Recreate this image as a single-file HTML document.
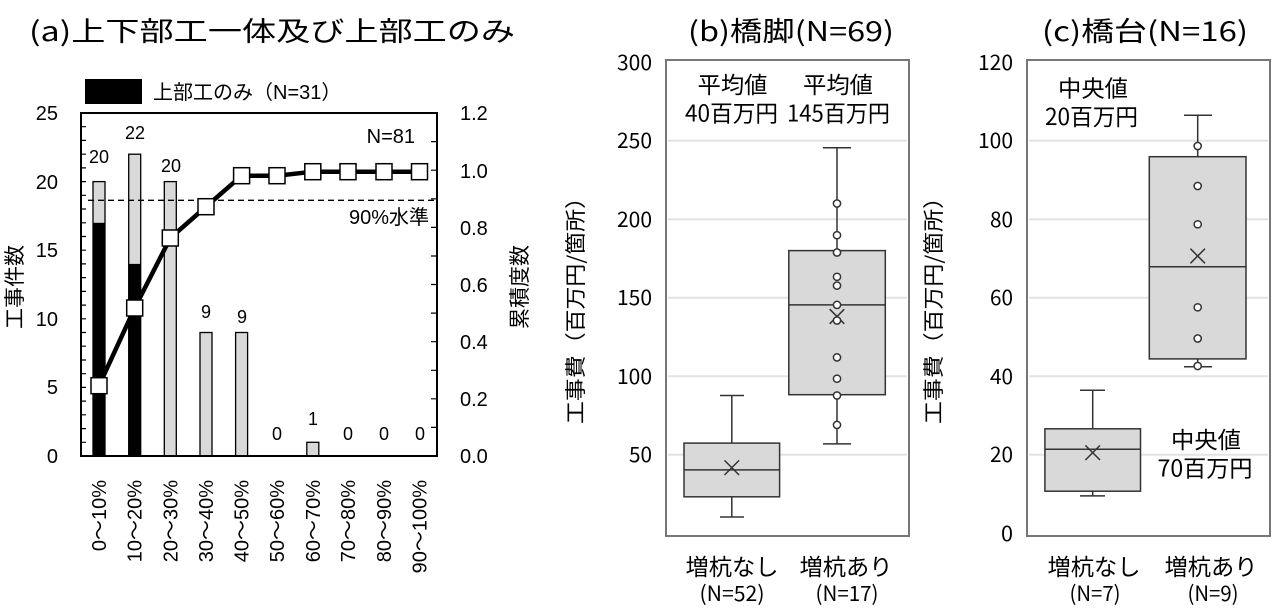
<!DOCTYPE html>
<html><head><meta charset="utf-8"><style>
html,body{margin:0;padding:0;background:#fff;}
svg{display:block;font-family:"Liberation Sans","Noto Sans CJK JP",sans-serif;}
</style></head><body>
<svg width="1285" height="616" viewBox="0 0 1285 616" xmlns="http://www.w3.org/2000/svg">
<!-- Titles -->
<text x="29" y="41" font-size="27" font-family="Noto Sans CJK JP, sans-serif" textLength="486" lengthAdjust="spacingAndGlyphs">(a)上下部工一体及び上部工のみ</text>
<text x="688" y="41" font-size="27" font-family="Noto Sans CJK JP, sans-serif" textLength="206" lengthAdjust="spacingAndGlyphs">(b)橋脚(N=69)</text>
<text x="1042" y="41" font-size="27" font-family="Noto Sans CJK JP, sans-serif" textLength="206" lengthAdjust="spacingAndGlyphs">(c)橋台(N=16)</text>

<!-- Panel a -->
<rect x="85" y="79" width="57" height="25" fill="#000"/>
<text x="153" y="99" font-size="20">上部工のみ（N=31）</text>
<g font-size="20" text-anchor="end">
<text x="58" y="463">0</text><text x="58" y="394">5</text><text x="58" y="326">10</text>
<text x="58" y="257">15</text><text x="58" y="189">20</text><text x="58" y="120">25</text>
</g>
<g font-size="20">
<text x="460" y="463">0.0</text><text x="460" y="406">0.2</text><text x="460" y="349">0.4</text>
<text x="460" y="292">0.6</text><text x="460" y="235">0.8</text><text x="460" y="178">1.0</text><text x="460" y="120">1.2</text>
</g>
<text transform="translate(22,287) rotate(-90)" font-size="21" text-anchor="middle">工事件数</text>
<text transform="translate(527,287) rotate(-90)" font-size="21" text-anchor="middle">累積度数</text>
<g stroke="#000" stroke-width="1.3" fill="#d9d9d9">
<rect x="93" y="181.6" width="12" height="274.4"/>
<rect x="128.7" y="154.2" width="12" height="301.8"/>
<rect x="164.3" y="181.6" width="12" height="274.4"/>
<rect x="200" y="332.5" width="12" height="123.5"/>
<rect x="235.6" y="332.5" width="12" height="123.5"/>
<rect x="306.8" y="442.3" width="12" height="13.7"/>
</g>
<rect x="93" y="222.8" width="12" height="233.2" fill="#000"/>
<rect x="128.7" y="263.9" width="12" height="192.1" fill="#000"/>
<g stroke="#000" stroke-width="1.2">
<path d="M81 442.3h5M81 428.6h5M81 414.8h5M81 401.1h5M81 387.4h5M81 373.7h5M81 360h5M81 346.2h5M81 332.5h5M81 318.8h5M81 305.1h5M81 291.4h5M81 277.6h5M81 263.9h5M81 250.2h5M81 236.5h5M81 222.8h5M81 209h5M81 195.3h5M81 181.6h5M81 167.9h5M81 154.2h5M81 140.4h5M81 126.7h5"/>
<path d="M437 427.4h-6M437 398.8h-6M437 370.3h-6M437 341.7h-6M437 313.1h-6M437 284.5h-6M437 256h-6M437 227.4h-6M437 198.8h-6M437 170.2h-6M437 141.6h-6"/>
</g>
<rect x="81" y="113" width="356" height="343" fill="none" stroke="#000" stroke-width="2"/>
<line x1="88" y1="200.3" x2="437" y2="200.3" stroke="#000" stroke-width="1.3" stroke-dasharray="6,4"/>
<text x="429" y="224" font-size="20" text-anchor="end">90%水準</text>
<text x="415" y="143" font-size="20" text-anchor="end">N=81</text>
<g font-size="18" text-anchor="middle">
<text x="99" y="163">20</text><text x="135" y="139">22</text><text x="171" y="172">20</text>
<text x="206" y="318">9</text><text x="242" y="323">9</text><text x="277" y="440">0</text>
<text x="313" y="425">1</text><text x="348" y="440">0</text><text x="384" y="440">0</text><text x="420" y="440">0</text>
</g>
<polyline points="99,385.7 134.7,308 170.3,238 206,206.7 241.6,175.7 277,175.7 312.8,171.7 348,171.7 384,171.7 419.5,171.7" fill="none" stroke="#000" stroke-width="4.5"/>
<g fill="#fff" stroke="#000" stroke-width="1.5">
<rect x="91" y="377.7" width="16" height="16"/><rect x="126.7" y="300" width="16" height="16"/>
<rect x="162.3" y="230" width="16" height="16"/><rect x="198" y="198.7" width="16" height="16"/>
<rect x="233.6" y="167.7" width="16" height="16"/><rect x="269" y="167.7" width="16" height="16"/>
<rect x="304.8" y="163.7" width="16" height="16"/><rect x="340" y="163.7" width="16" height="16"/>
<rect x="376" y="163.7" width="16" height="16"/><rect x="411.5" y="163.7" width="16" height="16"/>
</g>
<g font-size="20" text-anchor="end">
<text transform="translate(106,480) rotate(-90)">0～10%</text>
<text transform="translate(141.7,480) rotate(-90)">10～20%</text>
<text transform="translate(177.3,480) rotate(-90)">20～30%</text>
<text transform="translate(213,480) rotate(-90)">30～40%</text>
<text transform="translate(248.6,480) rotate(-90)">40～50%</text>
<text transform="translate(284,480) rotate(-90)">50～60%</text>
<text transform="translate(319.8,480) rotate(-90)">60～70%</text>
<text transform="translate(355,480) rotate(-90)">70～80%</text>
<text transform="translate(391,480) rotate(-90)">80～90%</text>
<text transform="translate(426.5,480) rotate(-90)">90～100%</text>
</g>

<!-- Panel b -->
<g stroke="#e3e3e3" stroke-width="2">
<line x1="668" y1="140.7" x2="907" y2="140.7"/><line x1="668" y1="219.3" x2="907" y2="219.3"/>
<line x1="668" y1="297.7" x2="907" y2="297.7"/><line x1="668" y1="376.2" x2="907" y2="376.2"/>
<line x1="668" y1="454.7" x2="907" y2="454.7"/>
</g>
<rect x="666" y="60" width="243" height="476" fill="none" stroke="#777" stroke-width="2"/>
<g font-size="21" text-anchor="end" font-family="Noto Sans CJK JP, sans-serif">
<text x="652" y="70" textLength="35" lengthAdjust="spacingAndGlyphs">300</text>
<text x="652" y="148" textLength="35" lengthAdjust="spacingAndGlyphs">250</text>
<text x="652" y="227" textLength="35" lengthAdjust="spacingAndGlyphs">200</text>
<text x="652" y="305" textLength="35" lengthAdjust="spacingAndGlyphs">150</text>
<text x="652" y="384" textLength="35" lengthAdjust="spacingAndGlyphs">100</text>
<text x="652" y="462" textLength="23" lengthAdjust="spacingAndGlyphs">50</text>
</g>
<text transform="translate(583,305) rotate(-90)" font-size="21" text-anchor="middle" font-family="Noto Sans CJK JP, sans-serif" textLength="238" lengthAdjust="spacingAndGlyphs">工事費（百万円/箇所）</text>
<g stroke="#333" stroke-width="1.5" fill="#d9d9d9">
<path d="M731.8 395.5V443.1M731.8 496.8V517M720 395.5h24M720 517h24" fill="none"/>
<rect x="684" y="443.1" width="95.6" height="53.7"/>
<line x1="684" y1="469.9" x2="779.6" y2="469.9"/>
<path d="M724.5 460.4l14.6 14.6M739.1 460.4l-14.6 14.6" fill="none"/>
<path d="M837 147.8V250.6M837 394.7V443.9M823 147.8h28M823 443.9h28" fill="none"/>
<rect x="788.8" y="250.6" width="96.5" height="144.1"/>
<line x1="788.8" y1="304.9" x2="885.3" y2="304.9"/>
<path d="M829.7 309.2l14.6 14.6M844.3 309.2l-14.6 14.6" fill="none"/>
<g fill="#fff">
<circle cx="837" cy="203.5" r="3.6"/><circle cx="837" cy="235.2" r="3.6"/><circle cx="837" cy="252.5" r="3.6"/>
<circle cx="837" cy="276.8" r="3.6"/><circle cx="837" cy="285.6" r="3.6"/><circle cx="837" cy="304.9" r="3.6"/>
<circle cx="837" cy="320.5" r="3.6"/><circle cx="837" cy="357.4" r="3.6"/><circle cx="837" cy="378.7" r="3.6"/>
<circle cx="837" cy="395.5" r="3.6"/><circle cx="837" cy="424.9" r="3.6"/>
</g>
</g>
<g font-size="23" text-anchor="middle" font-family="Noto Sans CJK JP, sans-serif">
<text x="732.5" y="93" textLength="70" lengthAdjust="spacingAndGlyphs">平均値</text>
<text x="838" y="93" textLength="70" lengthAdjust="spacingAndGlyphs">平均値</text>
<text x="731.5" y="121.7" textLength="93" lengthAdjust="spacingAndGlyphs">40百万円</text>
<text x="838.5" y="121.7" textLength="103" lengthAdjust="spacingAndGlyphs">145百万円</text>
<text x="732" y="575" textLength="93" lengthAdjust="spacingAndGlyphs">増杭なし</text>
<text x="846" y="575" textLength="93" lengthAdjust="spacingAndGlyphs">増杭あり</text>
</g>
<g font-size="21" text-anchor="middle" font-family="Noto Sans CJK JP, sans-serif">
<text x="732" y="601" textLength="65" lengthAdjust="spacingAndGlyphs">(N=52)</text>
<text x="847" y="601" textLength="63" lengthAdjust="spacingAndGlyphs">(N=17)</text>
</g>

<!-- Panel c -->
<g stroke="#e3e3e3" stroke-width="2">
<line x1="1029" y1="140.7" x2="1268" y2="140.7"/><line x1="1029" y1="219.3" x2="1268" y2="219.3"/>
<line x1="1029" y1="297.7" x2="1268" y2="297.7"/><line x1="1029" y1="376.2" x2="1268" y2="376.2"/>
<line x1="1029" y1="454.7" x2="1268" y2="454.7"/>
</g>
<rect x="1027" y="60" width="243" height="476" fill="none" stroke="#777" stroke-width="2"/>
<g font-size="21" text-anchor="end" font-family="Noto Sans CJK JP, sans-serif">
<text x="1013" y="70" textLength="35" lengthAdjust="spacingAndGlyphs">120</text>
<text x="1013" y="148" textLength="35" lengthAdjust="spacingAndGlyphs">100</text>
<text x="1013" y="227" textLength="23" lengthAdjust="spacingAndGlyphs">80</text>
<text x="1013" y="305" textLength="23" lengthAdjust="spacingAndGlyphs">60</text>
<text x="1013" y="384" textLength="23" lengthAdjust="spacingAndGlyphs">40</text>
<text x="1013" y="462" textLength="23" lengthAdjust="spacingAndGlyphs">20</text>
<text x="1013" y="541" textLength="12" lengthAdjust="spacingAndGlyphs">0</text>
</g>
<text transform="translate(941,305) rotate(-90)" font-size="21" text-anchor="middle" font-family="Noto Sans CJK JP, sans-serif" textLength="238" lengthAdjust="spacingAndGlyphs">工事費（百万円/箇所）</text>
<g stroke="#333" stroke-width="1.5" fill="#d9d9d9">
<path d="M1092.7 390.3V428.8M1092.7 491.2V495.9M1080 390.3h25M1080 495.9h25" fill="none"/>
<rect x="1044.9" y="428.8" width="95.6" height="62.4"/>
<line x1="1044.9" y1="449.2" x2="1140.5" y2="449.2"/>
<path d="M1085.4 445.4l14.6 14.6M1100 445.4l-14.6 14.6" fill="none"/>
<path d="M1197.7 115.3V156.7M1197.7 358.9V366.8M1184 115.3h28M1184 366.8h28" fill="none"/>
<rect x="1149.3" y="156.7" width="96.7" height="202.2"/>
<line x1="1149.3" y1="266.7" x2="1246" y2="266.7"/>
<path d="M1190.4 248.7l14.6 14.6M1205 248.7l-14.6 14.6" fill="none"/>
<g fill="#fff">
<circle cx="1197.7" cy="146" r="3.6"/><circle cx="1197.7" cy="186" r="3.6"/><circle cx="1197.7" cy="224.3" r="3.6"/>
<circle cx="1197.7" cy="307.3" r="3.6"/><circle cx="1197.7" cy="338.5" r="3.6"/><circle cx="1197.7" cy="366" r="3.6"/>
</g>
</g>
<g font-size="23" text-anchor="middle" font-family="Noto Sans CJK JP, sans-serif">
<text x="1093" y="96.7" textLength="70" lengthAdjust="spacingAndGlyphs">中央値</text>
<text x="1091.5" y="125" textLength="93" lengthAdjust="spacingAndGlyphs">20百万円</text>
<text x="1206" y="448" textLength="70" lengthAdjust="spacingAndGlyphs">中央値</text>
<text x="1205" y="476.7" textLength="95" lengthAdjust="spacingAndGlyphs">70百万円</text>
<text x="1094" y="575" textLength="93" lengthAdjust="spacingAndGlyphs">増杭なし</text>
<text x="1211" y="575" textLength="93" lengthAdjust="spacingAndGlyphs">増杭あり</text>
</g>
<g font-size="21" text-anchor="middle" font-family="Noto Sans CJK JP, sans-serif">
<text x="1095" y="601" textLength="51" lengthAdjust="spacingAndGlyphs">(N=7)</text>
<text x="1213" y="601" textLength="51" lengthAdjust="spacingAndGlyphs">(N=9)</text>
</g>
</svg>
</body></html>
